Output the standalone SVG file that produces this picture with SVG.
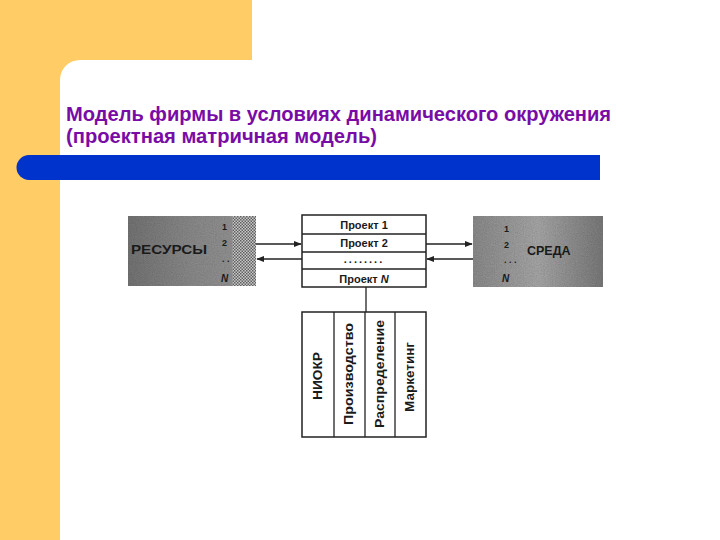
<svg xmlns="http://www.w3.org/2000/svg" width="720" height="540" viewBox="0 0 720 540">
<defs>
<style>
.t{font-family:"Liberation Sans",Arial,sans-serif;font-weight:bold;fill:#1a1a1a}
.title{font-family:"Liberation Sans",Arial,sans-serif;font-weight:bold;font-size:19.5px;fill:#7a0ca6}
.box{fill:#fff;stroke:#222;stroke-width:1.5}
.ln{stroke:#222;stroke-width:1.3;fill:none}
</style>
<filter id="noise" x="0" y="0" width="100%" height="100%">
<feTurbulence type="fractalNoise" baseFrequency="0.9" numOctaves="2" seed="3" result="n"/>
<feColorMatrix type="saturate" values="0" in="n" result="g"/>
<feComponentTransfer in="g" result="g2"><feFuncA type="linear" slope="0" intercept="0.45"/></feComponentTransfer>
<feComposite in="g2" in2="SourceGraphic" operator="in" result="c"/>
<feBlend in="c" in2="SourceGraphic" mode="multiply"/>
</filter>
<pattern id="chk" width="3" height="3" patternUnits="userSpaceOnUse">
<rect width="3" height="3" fill="#d8d8d8"/>
<rect width="1.5" height="1.5" fill="#555"/>
<rect x="1.5" y="1.5" width="1.5" height="1.5" fill="#555"/>
</pattern>
<linearGradient id="g1" x1="0" y1="0" x2="1" y2="0">
<stop offset="0" stop-color="#7a7a7a"/>
<stop offset="0.5" stop-color="#929292"/>
<stop offset="1" stop-color="#a0a0a0"/>
</linearGradient>
<linearGradient id="g2" x1="0" y1="0" x2="1" y2="0">
<stop offset="0" stop-color="#929292"/>
<stop offset="0.5" stop-color="#b0b0b0"/>
<stop offset="1" stop-color="#808080"/>
</linearGradient>
<marker id="ah" viewBox="0 0 10 10" refX="9" refY="5" markerWidth="6" markerHeight="6" orient="auto">
<path d="M0,1 L10,5 L0,9 Z" fill="#222"/>
</marker>
</defs>
<rect width="720" height="540" fill="#fff"/>
<g id="background">
<rect x="0" y="0" width="60" height="540" fill="#ffcc66"/>
<rect x="0" y="0" width="252" height="60" fill="#ffcc66"/>
<path d="M60,60 L80,60 A20,20 0 0 0 60,80 Z" fill="#ffcc66"/>
<path d="M29,155 L600,155 L600,180 L29,180 A12.5,12.5 0 0 1 29,155 Z" fill="#0033cc"/>
</g>
<g id="title">
<text class="title" x="66" y="121" textLength="545" lengthAdjust="spacingAndGlyphs">Модель фирмы в условиях динамического окружения</text>
<text class="title" x="66" y="143" textLength="311" lengthAdjust="spacingAndGlyphs">(проектная  матричная модель)</text>
</g>
<g id="resources">
<rect x="128" y="216" width="128" height="70" fill="url(#g1)" filter="url(#noise)"/>
<rect x="232" y="216" width="24" height="70" fill="url(#chk)" opacity="0.8"/>
<text class="t" x="131" y="254" font-size="13" textLength="76" lengthAdjust="spacingAndGlyphs">РЕСУРСЫ</text>
<text class="t" x="222" y="230" font-size="9">1</text>
<text class="t" x="222" y="246" font-size="9">2</text>
<text class="t" x="222" y="262" font-size="9">. .</text>
<text class="t" x="221" y="282" font-size="10" font-style="italic">N</text>
</g>
<g id="environment">
<rect x="473" y="216" width="130" height="71" fill="url(#g2)" filter="url(#noise)"/>
<text class="t" x="504" y="232" font-size="9">1</text>
<text class="t" x="504" y="248" font-size="9">2</text>
<text class="t" x="504" y="263" font-size="9">. . .</text>
<text class="t" x="502" y="282" font-size="10" font-style="italic">N</text>
<text class="t" x="527" y="255" font-size="12.5">СРЕДА</text>
</g>
<g id="projects">
<rect class="box" x="302" y="215" width="124" height="72"/>
<line class="ln" x1="302" y1="234" x2="426" y2="234"/>
<line class="ln" x1="302" y1="252" x2="426" y2="252"/>
<line class="ln" x1="302" y1="269" x2="426" y2="269"/>
<text class="t" x="364" y="229" font-size="11" text-anchor="middle">Проект 1</text>
<text class="t" x="364" y="247" font-size="11" text-anchor="middle">Проект 2</text>
<text class="t" x="364" y="263" font-size="11" text-anchor="middle" letter-spacing="2">........</text>
<text class="t" x="364" y="283" font-size="11" text-anchor="middle">Проект <tspan font-style="italic">N</tspan></text>
</g>
<g id="functions">
<rect class="box" x="302" y="312" width="124" height="125"/>
<line class="ln" x1="334" y1="312" x2="334" y2="437"/>
<line class="ln" x1="365" y1="312" x2="365" y2="437"/>
<line class="ln" x1="395" y1="312" x2="395" y2="437"/>
<text class="t" font-size="13" text-anchor="middle" textLength="48" lengthAdjust="spacingAndGlyphs" transform="translate(322,376) rotate(-90)">НИОКР</text>
<text class="t" font-size="12" text-anchor="middle" textLength="102" lengthAdjust="spacingAndGlyphs" transform="translate(353,374) rotate(-90)">Производство</text>
<text class="t" font-size="12" text-anchor="middle" textLength="108" lengthAdjust="spacingAndGlyphs" transform="translate(384,374) rotate(-90)">Распределение</text>
<text class="t" font-size="12" text-anchor="middle" textLength="70" lengthAdjust="spacingAndGlyphs" transform="translate(414,377) rotate(-90)">Маркетинг</text>
</g>
<g id="connectors">
<line class="ln" x1="256" y1="244" x2="301" y2="244" marker-end="url(#ah)"/>
<line class="ln" x1="302" y1="259" x2="257" y2="259" marker-end="url(#ah)"/>
<line class="ln" x1="426" y1="244" x2="472" y2="244" marker-end="url(#ah)"/>
<line class="ln" x1="473" y1="259" x2="427" y2="259" marker-end="url(#ah)"/>
<line class="ln" x1="366" y1="287" x2="366" y2="312"/>
</g>
</svg>
